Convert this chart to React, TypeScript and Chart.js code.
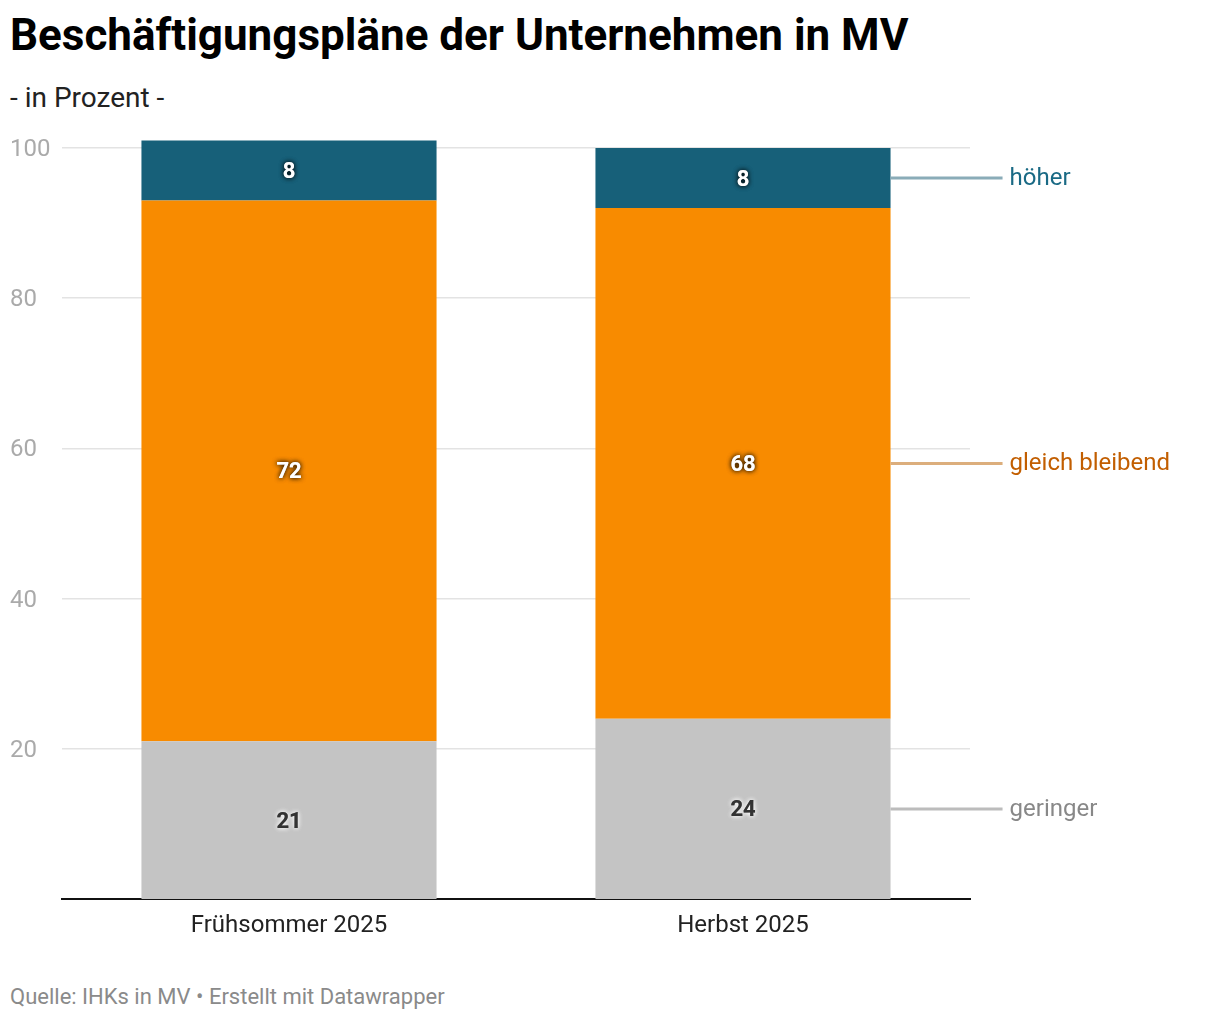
import React, { useEffect, useRef } from "react";
import { Chart, registerables } from "chart.js";

Chart.register(...registerables);

const categories = ["Frühsommer 2025", "Herbst 2025"];
const seriesNames = ["geringer", "gleich bleibend", "höher"];
const geringer = [21, 24];
const gleichBleibend = [72, 68];
const hoeher = [8, 8];
const yTicks = [20, 40, 60, 80, 100];

const barColors = ["#c4c4c4", "#f88b00", "#176079"];
const lineColors = ["#bcbcbc", "#dcae7c", "#8aacb8"];
const labelColors = ["#888888", "#c25e00", "#1a6a85"];
const valueTextDark = [true, false, false];

const FONT = "Roboto, 'Noto Sans', sans-serif";

const labelsPlugin = {
  id: "labelsPlugin",
  afterDatasetsDraw(chart: any) {
    const ctx = chart.ctx;
    ctx.save();
    chart.data.datasets.forEach((ds: any, di: number) => {
      const meta = chart.getDatasetMeta(di);
      meta.data.forEach((el: any, i: number) => {
        const v = ds.data[i];
        const cx = el.x;
        const cy = (el.y + el.base) / 2;
        ctx.font = `bold 22px ${FONT}`;
        ctx.textAlign = "center";
        ctx.textBaseline = "middle";
        if (valueTextDark[di]) {
          ctx.shadowColor = "rgba(255,255,255,0.9)";
          ctx.fillStyle = "#333333";
        } else {
          ctx.shadowColor = "rgba(0,0,0,0.7)";
          ctx.fillStyle = "#ffffff";
        }
        ctx.shadowBlur = 5;
        ctx.fillText(String(v), cx, cy + 2);
        ctx.fillText(String(v), cx, cy + 2);
        ctx.shadowBlur = 0;
        ctx.shadowColor = "transparent";
      });
      const last = meta.data[meta.data.length - 1];
      if (last) {
        const cy = (last.y + last.base) / 2;
        const x0 = last.x + last.width / 2;
        ctx.strokeStyle = lineColors[di];
        ctx.lineWidth = 3;
        ctx.beginPath();
        ctx.moveTo(x0, cy);
        ctx.lineTo(x0 + 112, cy);
        ctx.stroke();
        ctx.font = `24px ${FONT}`;
        ctx.textAlign = "left";
        ctx.textBaseline = "middle";
        ctx.fillStyle = labelColors[di];
        ctx.fillText(seriesNames[di], x0 + 119, cy + 1);
      }
    });
    ctx.restore();
  },
};

export default function App() {
  const ref = useRef<HTMLCanvasElement>(null);
  useEffect(() => {
    if (!ref.current) return;
    const values = [geringer, gleichBleibend, hoeher];
    const chart = new Chart(ref.current, {
      type: "bar",
      data: {
        labels: categories,
        datasets: seriesNames.map((name, i) => ({
          label: name,
          data: values[i],
          backgroundColor: barColors[i],
          borderWidth: 0,
          categoryPercentage: 1,
          barPercentage: 0.65,
          clip: false as any,
        })),
      },
      options: {
        animation: false,
        responsive: false,
        maintainAspectRatio: false,
        layout: { padding: { left: 10, right: 250, top: 28, bottom: 0 } },
        plugins: {
          legend: { display: false },
          tooltip: { enabled: false },
        },
        scales: {
          x: {
            stacked: true,
            grid: { display: false },
            border: { display: true, color: "#111111", width: 2 },
            ticks: {
              color: "#222222",
              font: { family: FONT, size: 24 },
              padding: 5,
            },
            afterFit(scale: any) {
              scale.height = 50;
            },
          },
          y: {
            stacked: true,
            min: 0,
            max: 100,
            afterBuildTicks(scale: any) {
              scale.ticks = yTicks.map((v) => ({ value: v }));
            },
            grid: {
              color: "#e3e3e3",
              lineWidth: 1.5,
              drawTicks: false,
            },
            border: { display: false },
            ticks: {
              color: "#aaaaaa",
              font: { family: FONT, size: 24 },
              crossAlign: "far",
              padding: 0,
              labelOffset: 2,
            },
            afterFit(scale: any) {
              scale.width = 52;
            },
          },
        },
      },
      plugins: [labelsPlugin],
    });
    return () => chart.destroy();
  }, []);

  return (
    <div
      style={{
        position: "absolute",
        left: 0,
        top: 0,
        width: 1220,
        height: 1022,
        background: "#ffffff",
        fontFamily: FONT,
        overflow: "hidden",
      }}
    >
      <div
        style={{
          position: "absolute",
          left: 10,
          top: 13,
          fontSize: 44,
          lineHeight: "44px",
          fontWeight: 700,
          color: "#000",
          letterSpacing: 0,
          whiteSpace: "nowrap",
        }}
      >
        Beschäftigungspläne der Unternehmen in MV
      </div>
      <div
        style={{
          position: "absolute",
          left: 10,
          top: 83,
          fontSize: 28,
          lineHeight: "30px",
          color: "#222",
          whiteSpace: "nowrap",
        }}
      >
        - in Prozent -
      </div>
      <canvas
        ref={ref}
        width={1220}
        height={829}
        style={{ position: "absolute", left: 0, top: 120, width: 1220, height: 829 }}
      />
      <div
        style={{
          position: "absolute",
          left: 10,
          top: 985,
          fontSize: 22,
          lineHeight: "24px",
          color: "#8a8a8a",
          whiteSpace: "nowrap",
        }}
      >
        Quelle: IHKs in MV • Erstellt mit Datawrapper
      </div>
    </div>
  );
}
